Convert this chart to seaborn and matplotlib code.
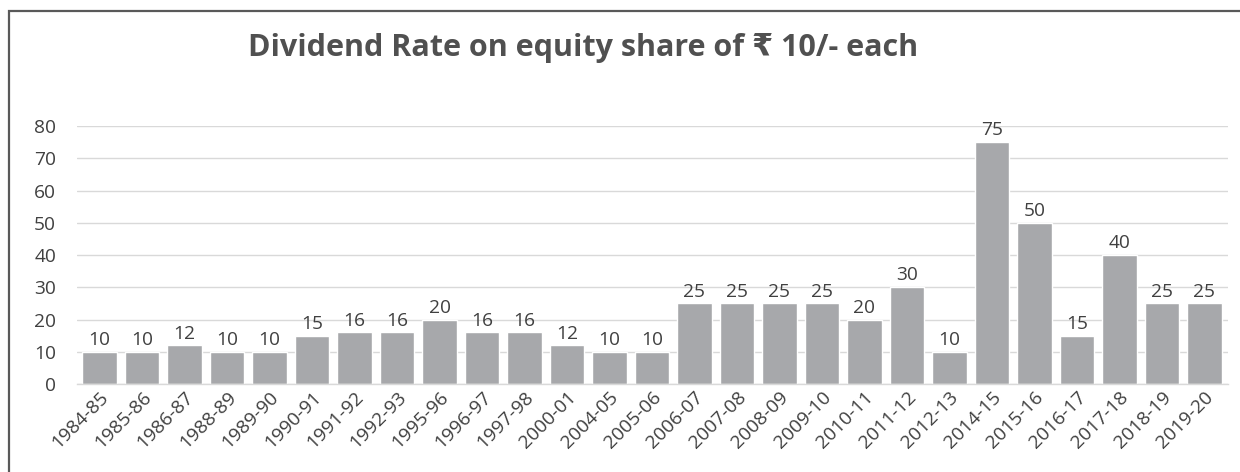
import matplotlib
matplotlib.use("Agg")
import matplotlib.pyplot as plt
from matplotlib.patches import Rectangle
import seaborn as sns
import pandas as pd

years = ["1984-85", "1985-86", "1986-87", "1988-89", "1989-90", "1990-91",
         "1991-92", "1992-93", "1995-96", "1996-97", "1997-98", "2000-01",
         "2004-05", "2005-06", "2006-07", "2007-08", "2008-09", "2009-10",
         "2010-11", "2011-12", "2012-13", "2014-15", "2015-16", "2016-17",
         "2017-18", "2018-19", "2019-20"]
dividend = [10, 10, 12, 10, 10, 15, 16, 16, 20, 16, 16, 12, 10, 10,
            25, 25, 25, 25, 20, 30, 10, 75, 50, 15, 40, 25, 25]
yticks = [0, 10, 20, 30, 40, 50, 60, 70, 80]

sns.set_theme(style="white")
plt.rcParams["font.family"] = ["Open Sans", "DejaVu Sans"]

df = pd.DataFrame({"year": years, "rate": dividend})

fig = plt.figure(figsize=(12.4, 4.72), dpi=100)
ax = fig.add_axes([0.0621, 0.1864, 0.9281, 0.5466])

sns.barplot(data=df, x="year", y="rate", color="#a7a8ab", saturation=1,
            width=0.82, ax=ax, zorder=2)

ax.set_ylim(0, 80)
ax.set_xlim(-0.53, 26.55)
ax.set_yticks(yticks)
ax.yaxis.grid(True, color="#d9d9d9", linewidth=1.0, zorder=0)
ax.set_axisbelow(True)
for side in ["top", "right", "left"]:
    ax.spines[side].set_visible(False)
ax.spines["bottom"].set_color("#d9d9d9")
ax.spines["bottom"].set_linewidth(1.0)
ax.set_xlabel("")
ax.set_ylabel("")
ax.tick_params(axis="y", labelsize=13.8, colors="#404040", length=0, pad=15)
ax.tick_params(axis="x", labelsize=13.8, colors="#404040", length=0, pad=3)
plt.setp(ax.get_xticklabels(), rotation=45, ha="right", rotation_mode="anchor")

for cont in ax.containers:
    ax.bar_label(cont, labels=[str(v) for v in dividend], padding=2,
                 fontsize=13.8, color="#404040")

fig.text(0.47, 0.898, "Dividend Rate on equity share of \u20b9 10/- each",
         ha="center", va="center", fontsize=22, fontweight="bold",
         color="#505050")

fig.patches.append(Rectangle((8.5 / 1240, -0.1), 1.2, 0.1 + (472 - 10.5) / 472,
                             transform=fig.transFigure, fill=False,
                             edgecolor="#595959", linewidth=1.6))

fig.savefig("out.png", dpi=100)
